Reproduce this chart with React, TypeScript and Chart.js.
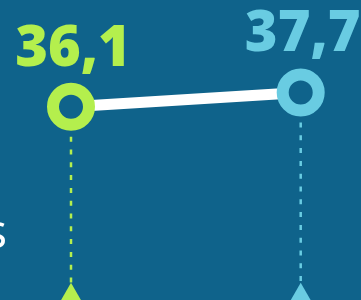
import { useEffect, useRef } from "react";
import { Chart, registerables } from "chart.js";

Chart.register(...registerables);

// ---- data ----
const categories = [0, 1];
const values = [36.1, 37.7];
const pointColors = ["#b4ef4d", "#69cce2"];
const baseValue = 14;
const sideText = "s";

const BG = "#0f638b";

const fmt = (v: number) => v.toFixed(1).replace(".", ",");

const labelPlugin = {
  id: "valueLabels",
  afterDatasetsDraw(chart: any) {
    const meta = chart.getDatasetMeta(0);
    const ctx = chart.ctx as CanvasRenderingContext2D;
    ctx.save();
    ctx.font = '800 56px "Open Sans"';
    ctx.textAlign = "center";
    ctx.textBaseline = "alphabetic";
    meta.data.forEach((pt: any, i: number) => {
      ctx.fillStyle = pointColors[i];
      ctx.fillText(fmt(values[i]), pt.x + 2, pt.y - 41);
    });
    ctx.fillStyle = "#ffffff";
    ctx.font = '400 48px "Open Sans"';
    ctx.textAlign = "right";
    ctx.fillText(sideText, 7, 248);
    ctx.restore();
  },
};

export default function App() {
  const ref = useRef<HTMLCanvasElement | null>(null);

  useEffect(() => {
    document.body.style.margin = "0";
    document.body.style.background = BG;
    const canvas = ref.current;
    if (!canvas) return;

    const mainData = categories.map((c, i) => ({ x: c, y: values[i] }));
    const dropSets = categories.map((c, i) => ({
      data: [
        { x: c, y: values[i] },
        { x: c, y: baseValue },
      ],
      borderColor: pointColors[i],
      borderWidth: 2.5,
      borderDash: [5, 7.8],
      borderDashOffset: 8.4,
      pointRadius: [0, 20],
      pointHoverRadius: [0, 20],
      pointStyle: "triangle",
      pointBackgroundColor: pointColors[i],
      pointBorderWidth: 0,
      tension: 0,
      clip: false,
    }));

    const chart = new Chart(canvas, {
      type: "line",
      data: {
        datasets: [
          {
            data: mainData,
            borderColor: "#ffffff",
            borderWidth: 11,
            pointRadius: 18,
            pointHoverRadius: 18,
            pointBorderWidth: 12,
            pointHoverBorderWidth: 12,
            pointBackgroundColor: BG,
            pointBorderColor: pointColors,
            tension: 0,
            clip: false,
          } as any,
          ...(dropSets as any[]),
        ],
      },
      options: {
        animation: false,
        responsive: false,
        devicePixelRatio: 1,
        layout: { padding: 0, autoPadding: false },
        events: [],
        plugins: {
          legend: { display: false },
          tooltip: { enabled: false },
        },
        scales: {
          x: { type: "linear", display: false, min: -0.3091, max: 1.2625 },
          y: { type: "linear", display: false, min: 14.32, max: 48.12 },
        },
      },
      plugins: [labelPlugin],
    });
    return () => chart.destroy();
  }, []);

  return (
    <div style={{ width: 361, height: 300, background: BG, overflow: "hidden" }}>
      <canvas ref={ref} width={361} height={300} style={{ display: "block" }} />
    </div>
  );
}
